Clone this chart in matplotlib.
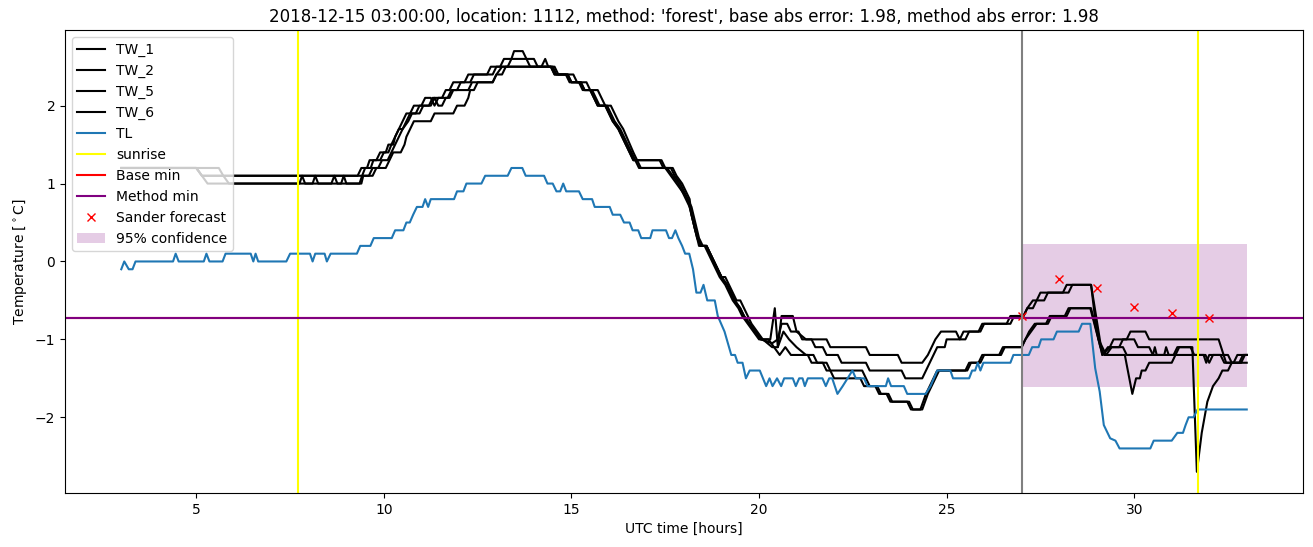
import matplotlib
matplotlib.use("Agg")
import matplotlib.pyplot as plt

# (hour, temperature) points, per sensor
tw_1 = [(3.0, 1.2), (5.0, 1.2), (5.15, 1.1), (9.3, 1.1), (9.4, 1.2), (9.55, 1.2), (9.62, 1.3), (9.8, 1.3),
        (9.9, 1.4), (10.05, 1.4), (10.12, 1.5), (10.25, 1.5), (10.3, 1.6), (10.4, 1.7), (10.5, 1.8), (10.6, 1.9),
        (10.7, 1.9), (10.8, 2.0), (11.0, 2.0), (11.1, 2.1), (11.25, 2.1), (11.35, 2.0), (11.45, 2.1), (11.55, 2.1),
        (11.65, 2.2), (11.75, 2.2), (11.85, 2.3), (12.15, 2.3), (12.25, 2.4), (12.75, 2.4), (12.85, 2.5), (13.1, 2.5),
        (13.2, 2.6), (13.4, 2.6), (13.47, 2.7), (13.7, 2.7), (13.8, 2.6), (13.9, 2.5), (14.45, 2.5), (14.55, 2.4),
        (14.85, 2.4), (14.95, 2.3), (15.2, 2.3), (15.3, 2.2), (15.5, 2.2), (15.6, 2.1), (15.7, 2.0), (15.9, 2.0),
        (16.0, 1.9), (16.1, 1.8), (16.25, 1.7), (16.35, 1.6), (16.45, 1.5), (16.55, 1.4), (16.65, 1.3), (17.35, 1.3),
        (17.45, 1.2), (17.65, 1.2), (17.75, 1.1), (17.9, 1.0), (18.0, 0.9), (18.1, 0.8), (18.2, 0.6), (18.3, 0.4),
        (18.4, 0.2), (18.55, 0.2), (18.65, 0.1), (18.75, 0.0), (18.85, -0.1), (18.95, -0.2), (19.1, -0.3),
        (19.2, -0.4), (19.3, -0.5), (19.45, -0.6), (19.55, -0.7), (19.7, -0.8), (19.85, -0.9), (20.0, -1.0),
        (20.3, -1.0), (20.42, -0.6), (20.5, -1.1), (20.6, -0.7), (20.9, -0.7), (21.0, -0.9), (21.25, -1.0),
        (21.8, -1.0), (21.9, -1.1), (22.85, -1.1), (22.95, -1.2), (23.7, -1.2), (23.8, -1.3), (24.35, -1.3),
        (24.5, -1.2), (24.6, -1.1), (24.7, -1.0), (24.85, -0.9), (25.25, -0.9), (25.35, -1.0), (25.45, -0.9),
        (25.85, -0.9), (25.95, -0.8), (26.6, -0.8), (26.7, -0.7), (27.05, -0.7), (27.15, -0.6), (27.3, -0.5),
        (27.4, -0.5), (27.5, -0.4), (28.1, -0.4), (28.2, -0.3), (28.85, -0.3), (28.95, -0.7), (29.05, -1.0),
        (29.15, -1.2), (29.35, -1.1), (29.45, -1.0), (29.8, -1.0), (29.9, -0.9), (30.3, -0.9), (30.4, -1.0),
        (32.25, -1.0), (32.45, -1.3), (32.65, -1.3), (32.75, -1.2), (33.0, -1.2)]

tw_2 = [(3.0, 1.2), (5.0, 1.2), (5.15, 1.1), (5.3, 1.0), (7.75, 1.0), (7.82, 1.1), (7.9, 1.0), (8.1, 1.0),
        (8.17, 1.1), (8.25, 1.0), (9.35, 1.0), (9.42, 1.1), (9.5, 1.2), (9.65, 1.2), (9.72, 1.3), (9.9, 1.3),
        (10.0, 1.4), (10.12, 1.4), (10.2, 1.5), (10.3, 1.6), (10.4, 1.7), (10.5, 1.7), (10.6, 1.8), (10.7, 1.9),
        (10.85, 1.9), (10.95, 2.0), (11.2, 2.0), (11.3, 2.1), (11.7, 2.1), (11.8, 2.2), (11.95, 2.2), (12.05, 2.3),
        (12.3, 2.3), (12.4, 2.4), (12.9, 2.4), (13.0, 2.5), (13.3, 2.5), (13.4, 2.6), (14.0, 2.6), (14.1, 2.5),
        (14.55, 2.5), (14.65, 2.4), (15.05, 2.4), (15.15, 2.3), (15.4, 2.3), (15.5, 2.2), (15.7, 2.2), (15.8, 2.1),
        (15.9, 2.0), (16.05, 2.0), (16.15, 1.9), (16.25, 1.8), (16.38, 1.7), (16.47, 1.6), (16.56, 1.5),
        (16.65, 1.4), (16.75, 1.3), (16.85, 1.2), (17.5, 1.2), (17.65, 1.1), (17.8, 1.0), (17.95, 0.9), (18.05, 0.8),
        (18.15, 0.7), (18.25, 0.5), (18.35, 0.3), (18.45, 0.2), (18.6, 0.2), (18.7, 0.1), (18.8, 0.0), (18.9, -0.1),
        (19.0, -0.2), (19.15, -0.3), (19.25, -0.4), (19.35, -0.5), (19.5, -0.6), (19.6, -0.7), (19.75, -0.8),
        (19.9, -0.9), (20.05, -1.0), (20.35, -1.05), (20.5, -1.0), (20.6, -0.8), (20.75, -0.8), (20.85, -0.9),
        (21.05, -0.9), (21.15, -1.0), (21.4, -1.0), (21.5, -1.1), (21.7, -1.1), (21.8, -1.2), (22.1, -1.2),
        (22.2, -1.3), (22.85, -1.3), (22.95, -1.4), (23.8, -1.4), (23.9, -1.5), (24.35, -1.5), (24.45, -1.4),
        (24.55, -1.3), (24.65, -1.2), (24.75, -1.1), (24.95, -1.1), (25.0, -1.0), (25.5, -1.0), (25.6, -0.9),
        (25.9, -0.9), (26.0, -0.8), (26.7, -0.8), (26.8, -0.7), (27.05, -0.7), (27.15, -0.6), (27.3, -0.6),
        (27.4, -0.5), (27.6, -0.5), (27.7, -0.4), (28.25, -0.4), (28.35, -0.3), (28.85, -0.3), (28.95, -0.6),
        (29.05, -0.9), (29.15, -1.2), (29.3, -1.1), (29.7, -1.1), (29.8, -1.2), (30.5, -1.2), (30.55, -1.1),
        (30.6, -1.2), (31.05, -1.2), (31.15, -1.1), (31.55, -1.1), (31.67, -2.7), (31.8, -2.2), (31.95, -1.8),
        (32.1, -1.6), (32.25, -1.5), (32.35, -1.4), (32.5, -1.4), (32.6, -1.3), (32.85, -1.3), (32.95, -1.2),
        (33.0, -1.2)]

tw_5 = [(3.0, 1.2), (5.6, 1.2), (5.72, 1.1), (5.87, 1.0), (8.6, 1.0), (8.68, 1.1), (8.76, 1.0), (8.86, 1.0),
        (8.93, 1.1), (9.0, 1.0), (9.4, 1.0), (9.45, 1.1), (9.6, 1.1), (9.7, 1.2), (9.85, 1.2), (9.95, 1.3),
        (10.1, 1.3), (10.2, 1.4), (10.3, 1.5), (10.4, 1.6), (10.5, 1.7), (10.65, 1.8), (10.75, 1.9), (10.95, 1.9),
        (11.05, 2.0), (11.25, 2.0), (11.35, 2.1), (11.45, 2.0), (11.55, 2.0), (11.65, 2.1), (11.75, 2.1),
        (11.85, 2.2), (12.25, 2.2), (12.35, 2.3), (12.9, 2.3), (13.0, 2.4), (13.15, 2.5), (14.2, 2.5), (14.3, 2.6),
        (14.38, 2.5), (14.5, 2.5), (14.6, 2.4), (14.9, 2.4), (15.0, 2.3), (15.25, 2.3), (15.35, 2.2), (15.55, 2.2),
        (15.65, 2.1), (15.75, 2.0), (15.95, 2.0), (16.05, 1.9), (16.15, 1.8), (16.3, 1.7), (16.4, 1.6), (16.5, 1.5),
        (16.6, 1.4), (16.7, 1.3), (16.8, 1.2), (17.55, 1.2), (17.7, 1.1), (17.85, 1.0), (17.95, 0.9), (18.1, 0.8),
        (18.2, 0.7), (18.3, 0.5), (18.4, 0.3), (18.5, 0.2), (18.6, 0.2), (18.7, 0.1), (18.8, 0.0), (18.9, -0.1),
        (19.0, -0.2), (19.1, -0.2), (19.2, -0.3), (19.3, -0.4), (19.4, -0.5), (19.5, -0.5), (19.6, -0.6),
        (19.7, -0.7), (19.8, -0.8), (19.95, -0.9), (20.1, -1.0), (20.35, -1.1), (20.5, -1.1), (20.65, -0.9),
        (20.8, -1.0), (21.0, -1.1), (21.25, -1.2), (21.45, -1.2), (21.55, -1.3), (21.7, -1.3), (21.8, -1.4),
        (22.75, -1.4), (22.85, -1.5), (22.95, -1.6), (23.15, -1.6), (23.25, -1.7), (23.4, -1.7), (23.5, -1.8),
        (23.95, -1.8), (24.05, -1.9), (24.35, -1.9), (24.5, -1.7), (24.6, -1.6), (24.7, -1.5), (24.8, -1.4),
        (25.5, -1.4), (25.6, -1.3), (25.85, -1.3), (25.95, -1.2), (26.4, -1.2), (26.5, -1.1), (27.0, -1.1),
        (27.1, -1.0), (27.2, -0.9), (27.35, -0.8), (27.65, -0.8), (27.75, -0.7), (28.15, -0.7), (28.25, -0.6),
        (28.83, -0.6), (29.1, -1.1), (29.2, -1.2), (29.75, -1.2), (29.95, -1.7), (30.05, -1.5), (30.15, -1.5),
        (30.2, -1.4), (30.3, -1.4), (30.4, -1.3), (31.0, -1.3), (31.1, -1.2), (31.85, -1.2), (31.92, -1.3),
        (32.0, -1.2), (32.3, -1.2), (32.4, -1.3), (33.0, -1.3)]

tw_6 = [(3.0, 1.2), (5.0, 1.2), (5.15, 1.1), (9.7, 1.1), (9.8, 1.2), (10.05, 1.2), (10.15, 1.3), (10.25, 1.4),
        (10.45, 1.4), (10.55, 1.5), (10.6, 1.6), (10.7, 1.7), (10.8, 1.8), (11.25, 1.8), (11.35, 1.9), (11.85, 1.9),
        (11.95, 2.0), (12.15, 2.0), (12.25, 2.1), (12.3, 2.2), (12.4, 2.2), (12.5, 2.3), (12.9, 2.3), (13.0, 2.4),
        (13.15, 2.4), (13.25, 2.5), (14.45, 2.5), (14.55, 2.4), (14.9, 2.4), (15.0, 2.3), (15.25, 2.3), (15.35, 2.2),
        (15.5, 2.2), (15.6, 2.1), (15.7, 2.0), (15.9, 2.0), (16.0, 1.9), (16.1, 1.8), (16.25, 1.7), (16.35, 1.6),
        (16.45, 1.5), (16.55, 1.4), (16.65, 1.3), (17.4, 1.3), (17.5, 1.2), (17.7, 1.2), (17.8, 1.1), (17.95, 1.0),
        (18.05, 0.9), (18.15, 0.8), (18.2, 0.6), (18.3, 0.4), (18.45, 0.2), (18.6, 0.2), (18.7, 0.1), (18.8, 0.0),
        (18.9, -0.1), (19.0, -0.2), (19.15, -0.3), (19.25, -0.4), (19.35, -0.5), (19.5, -0.6), (19.6, -0.7),
        (19.75, -0.8), (19.9, -0.9), (20.05, -1.0), (20.25, -1.0), (20.4, -1.1), (20.55, -1.2), (20.7, -1.1),
        (20.85, -1.2), (21.3, -1.2), (21.4, -1.3), (21.8, -1.3), (21.9, -1.4), (22.0, -1.5), (22.7, -1.5),
        (22.8, -1.6), (23.1, -1.6), (23.2, -1.7), (23.45, -1.7), (23.55, -1.8), (24.0, -1.8), (24.1, -1.9),
        (24.3, -1.9), (24.45, -1.7), (24.55, -1.6), (24.65, -1.5), (24.75, -1.4), (25.55, -1.4), (25.65, -1.3),
        (25.9, -1.3), (26.0, -1.2), (26.45, -1.2), (26.55, -1.1), (27.0, -1.1), (27.1, -1.0), (27.25, -0.9),
        (27.4, -0.8), (27.7, -0.8), (27.8, -0.7), (28.2, -0.7), (28.3, -0.6), (28.85, -0.6), (29.05, -1.0),
        (29.15, -1.1), (29.25, -1.2), (29.4, -1.1), (29.6, -1.1), (29.7, -1.0), (30.0, -1.0), (30.1, -1.1),
        (30.4, -1.1), (30.5, -1.2), (30.8, -1.2), (30.85, -1.1), (30.92, -1.2), (31.1, -1.2), (31.2, -1.1),
        (31.5, -1.1), (31.6, -1.2), (31.9, -1.2), (32.0, -1.3), (32.1, -1.2), (32.5, -1.2), (32.6, -1.3),
        (32.8, -1.3), (32.9, -1.2), (33.0, -1.2)]

tl = [(3.0, -0.1), (3.08, 0.0), (3.2, -0.1), (3.3, -0.1), (3.38, 0.0), (4.38, 0.0), (4.45, 0.1), (4.53, 0.0),
      (5.2, 0.0), (5.27, 0.1), (5.35, 0.0), (5.7, 0.0), (5.78, 0.1), (6.45, 0.1), (6.52, 0.0), (6.58, 0.1),
      (6.65, 0.0), (7.4, 0.0), (7.5, 0.1), (8.03, 0.1), (8.1, 0.0), (8.17, 0.1), (8.42, 0.1), (8.48, 0.0),
      (8.58, 0.1), (9.28, 0.1), (9.37, 0.2), (9.64, 0.2), (9.73, 0.3), (10.21, 0.3), (10.3, 0.4), (10.52, 0.4),
      (10.6, 0.5), (10.69, 0.5), (10.78, 0.6), (10.88, 0.7), (11.03, 0.7), (11.1, 0.8), (11.18, 0.7), (11.25, 0.8),
      (11.87, 0.8), (11.95, 0.9), (12.12, 0.9), (12.2, 1.0), (12.6, 1.0), (12.7, 1.1), (13.3, 1.1), (13.4, 1.2),
      (13.69, 1.2), (13.78, 1.1), (14.27, 1.1), (14.36, 1.0), (14.5, 1.0), (14.6, 0.9), (14.7, 0.9), (14.78, 1.0),
      (14.86, 0.9), (15.2, 0.9), (15.3, 0.8), (15.55, 0.8), (15.62, 0.7), (16.02, 0.7), (16.1, 0.6), (16.3, 0.6),
      (16.4, 0.5), (16.55, 0.5), (16.63, 0.4), (16.78, 0.4), (16.86, 0.3), (17.1, 0.3), (17.16, 0.4), (17.52, 0.4),
      (17.6, 0.3), (17.68, 0.3), (17.77, 0.4), (17.85, 0.3), (17.95, 0.2), (18.03, 0.1), (18.14, 0.1),
      (18.24, -0.1), (18.33, -0.4), (18.44, -0.4), (18.52, -0.3), (18.62, -0.5), (18.82, -0.5), (18.9, -0.7),
      (19.08, -0.9), (19.2, -1.1), (19.26, -1.2), (19.36, -1.2), (19.43, -1.3), (19.56, -1.3), (19.65, -1.5),
      (19.75, -1.4), (20.02, -1.4), (20.19, -1.6), (20.28, -1.5), (20.36, -1.6), (20.48, -1.5), (20.59, -1.6),
      (20.67, -1.5), (20.9, -1.5), (20.98, -1.6), (21.07, -1.5), (21.16, -1.5), (21.22, -1.6), (21.3, -1.5),
      (21.69, -1.5), (21.78, -1.6), (21.87, -1.5), (21.95, -1.5), (22.09, -1.7), (22.23, -1.6), (22.36, -1.5),
      (22.49, -1.4), (22.58, -1.5), (22.8, -1.5), (22.89, -1.6), (23.38, -1.6), (23.44, -1.5), (23.52, -1.6),
      (23.86, -1.6), (23.95, -1.7), (24.44, -1.7), (24.57, -1.6), (24.66, -1.5), (24.75, -1.4), (25.1, -1.4),
      (25.17, -1.5), (25.6, -1.5), (25.68, -1.4), (25.76, -1.4), (25.83, -1.3), (25.9, -1.4), (25.98, -1.3),
      (26.7, -1.3), (26.78, -1.2), (27.19, -1.2), (27.28, -1.1), (27.45, -1.1), (27.52, -1.0), (27.85, -1.0),
      (27.94, -0.9), (28.52, -0.9), (28.61, -0.8), (28.83, -0.8), (28.96, -1.37), (29.08, -1.67), (29.19, -2.1),
      (29.36, -2.27), (29.5, -2.3), (29.61, -2.4), (30.43, -2.4), (30.52, -2.3), (31.0, -2.3), (31.15, -2.2),
      (31.3, -2.2), (31.37, -2.1), (31.45, -2.0), (31.58, -2.0), (31.69, -1.9), (33.0, -1.9)]

sunrise_hours = [7.7, 31.7]
forecast_start = 27.0
min_value = -0.72
forecast_hours = [27, 28, 29, 30, 31, 32]
forecast_values = [-0.70, -0.22, -0.34, -0.58, -0.66, -0.72]
conf_hours = [27, 33]
conf_low = -1.61
conf_high = 0.23

title = ("2018-12-15 03:00:00, location: 1112, method: 'forest', "
         "base abs error: 1.98, method abs error: 1.98")

fig = plt.figure(figsize=(13.13, 5.47), dpi=100)
ax = fig.add_subplot(111)
fig.subplots_adjust(left=0.0495, right=0.9924, top=0.945, bottom=0.099)

for name, series in [("TW_1", tw_1), ("TW_2", tw_2), ("TW_5", tw_5), ("TW_6", tw_6)]:
    t, v = zip(*series)
    ax.plot(t, v, color="black", label=name)

t, v = zip(*tl)
ax.plot(t, v, color="tab:blue", label="TL")

for i, h in enumerate(sunrise_hours):
    ax.axvline(h, color="yellow", label="sunrise" if i == 0 else None)

ax.axhline(min_value, color="red", label="Base min")
ax.axhline(min_value, color="purple", label="Method min")
ax.plot(forecast_hours, forecast_values, "rx", label="Sander forecast")
ax.fill_between(conf_hours, conf_low, conf_high, color="purple", alpha=0.2,
                linewidth=0, label="95% confidence")
ax.axvline(forecast_start, color="grey")

ax.set_xlabel("UTC time [hours]")
ax.set_ylabel(r"Temperature [$^\circ$C]")
ax.set_title(title)
ax.legend(loc="upper left")

fig.savefig("out.png")
